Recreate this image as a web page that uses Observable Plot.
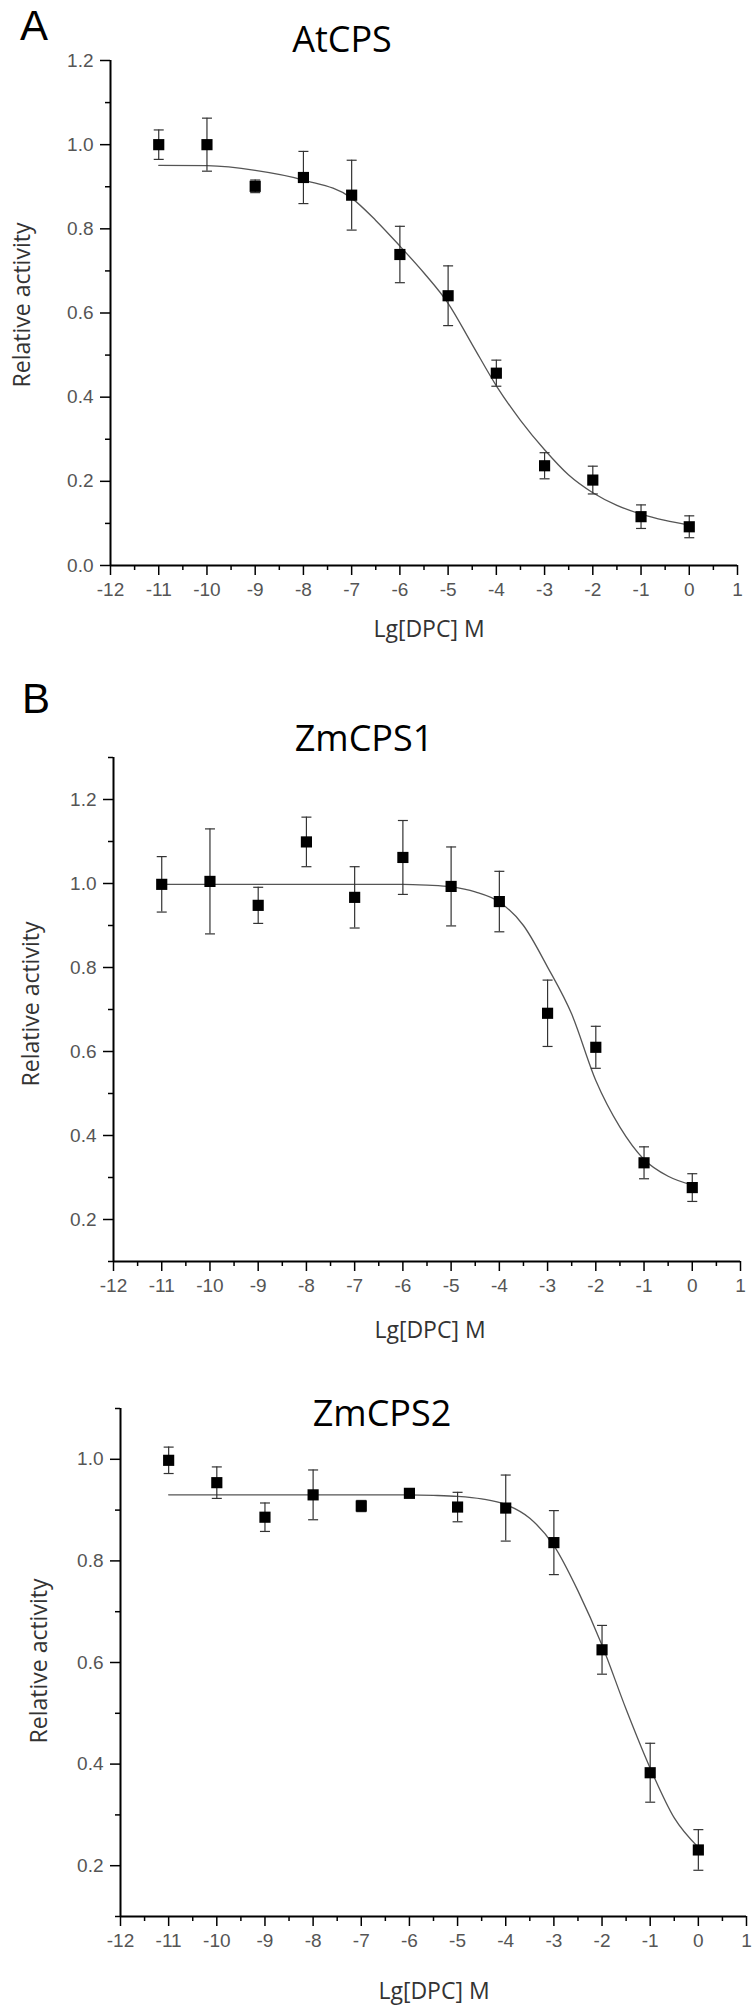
<!DOCTYPE html>
<html><head><meta charset="utf-8">
<script src="https://cdn.jsdelivr.net/npm/d3@7"></script>
<script src="https://cdn.jsdelivr.net/npm/@observablehq/plot@0.6"></script>
<style>
body{margin:0;background:#fff;}
#page{position:relative;width:756px;height:2010px;overflow:hidden;background:#fff;}
.panel{position:absolute;left:0;}
.panel svg{display:block;}
g[aria-label="x-axis tick label"], g[aria-label="y-axis tick label"]{fill:#555;}
#overlay{position:absolute;left:0;top:0;pointer-events:none;}
</style></head><body><div id="page"></div>
<script>
// ---- data ----
const xValues = [-11,-10,-9,-8,-7,-6,-5,-4,-3,-2,-1,0];
const xTicks = [-12,-11,-10,-9,-8,-7,-6,-5,-4,-3,-2,-1,0,1];
const xMinorTicks = [-11.5,-10.5,-9.5,-8.5,-7.5,-6.5,-5.5,-4.5,-3.5,-2.5,-1.5,-0.5,0.5];

const atcpsMean = [1.00,1.00,0.901,0.922,0.880,0.739,0.641,0.457,0.237,0.203,0.116,0.092];
const atcpsErr  = [0.035,0.063,0.015,0.062,0.083,0.067,0.071,0.031,0.031,0.033,0.028,0.026];
const zm1Mean = [0.998,1.005,0.948,1.099,0.967,1.062,0.993,0.957,0.691,0.610,0.335,0.276];
const zm1Err  = [0.066,0.125,0.043,0.059,0.073,0.088,0.094,0.072,0.079,0.050,0.038,0.033];
const zm2Mean = [0.998,0.954,0.886,0.930,0.908,0.933,0.906,0.904,0.836,0.625,0.383,0.231];
const zm2Err  = [0.026,0.031,0.028,0.049,0.011,0.004,0.029,0.065,0.063,0.048,0.058,0.040];

// fitted curves
const fitX = [-11,-10,-9,-8,-7,-6.5,-6,-5.5,-5,-4.5,-4,-3.5,-3,-2.5,-2,-1.5,-1,-0.5,0];
const atcpsFit = [0.951,0.950,0.939,0.916,0.873,0.820,0.759,0.695,0.623,0.525,0.427,0.345,0.275,0.215,0.173,0.143,0.122,0.107,0.096];
const zm1Fit   = [0.998,0.998,0.998,0.998,0.998,0.998,0.998,0.996,0.992,0.980,0.956,0.900,0.801,0.689,0.531,0.420,0.343,0.303,0.282];
const zm2Fit   = [0.930,0.930,0.930,0.930,0.930,0.930,0.930,0.929,0.927,0.922,0.911,0.884,0.830,0.741,0.634,0.508,0.392,0.294,0.236];

const yTicksA = [0,0.2,0.4,0.6,0.8,1.0,1.2];
const yMinorA = [0.1,0.3,0.5,0.7,0.9,1.1];
const yTicksB = [0.2,0.4,0.6,0.8,1.0,1.2];
const yMinorB = [0.1,0.3,0.5,0.7,0.9,1.1,1.3];
const yTicksC = [0.2,0.4,0.6,0.8,1.0];
const yMinorC = [0.1,0.3,0.5,0.7,0.9,1.1];

const titles = ["AtCPS","ZmCPS1","ZmCPS2"];
const panelLetters = ["A","B"];
const yLabel = "Relative activity";
const xLabel = "Lg[DPC] M";

// ---- drawing ----
const capSymbol = {draw(ctx){ ctx.moveTo(-5,0); ctx.lineTo(5,0); }};

function makePanel(cfg){
  const data = xValues.map((x,i)=>({x, y: cfg.mean[i], e: cfg.err[i]}));
  const fit = fitX.map((x,i)=>({x, y: cfg.fit[i]}));
  return Plot.plot({
    width: 756, height: cfg.height,
    marginTop: cfg.mt, marginBottom: cfg.mb, marginLeft: cfg.ml, marginRight: cfg.mr,
    style: {fontFamily: '"Liberation Sans", Arial, sans-serif', fontSize: "19px", background: "transparent", overflow: "visible"},
    x: {domain: [-12, 1]},
    y: {domain: cfg.yDomain},
    marks: [
      Plot.axisY(cfg.yMinor, {tickSize: 5, tickFormat: () => "", label: null, strokeWidth: 1.5}),
      Plot.axisY(cfg.yMajor, {tickSize: 10, tickPadding: 7, tickFormat: d => d.toFixed(1), label: null, strokeWidth: 1.5}),
      Plot.axisX(xMinorTicks, {tickSize: 5, tickFormat: () => "", label: null, strokeWidth: 1.5}),
      Plot.axisX(xTicks, {tickSize: 10, tickPadding: 7, tickFormat: d => String(d), label: null, strokeWidth: 1.5}),
      Plot.ruleX([-12], {stroke: "#000", strokeWidth: 2}),
      Plot.ruleY([cfg.yDomain[0]], {stroke: "#000", strokeWidth: 2}),
      Plot.line(fit, {x: "x", y: "y", curve: "monotone-x", stroke: "#555", strokeWidth: 1.3}),
      Plot.ruleX(data, {x: "x", y1: d => d.y - d.e, y2: d => d.y + d.e, stroke: "#333", strokeWidth: 1.2}),
      Plot.dot(data, {x: "x", y: d => d.y + d.e, symbol: capSymbol, fill: "none", stroke: "#333", strokeWidth: 1.2}),
      Plot.dot(data, {x: "x", y: d => d.y - d.e, symbol: capSymbol, fill: "none", stroke: "#333", strokeWidth: 1.2}),
      Plot.dot(data, {x: "x", y: "y", symbol: "square", r: 6.3, fill: "#000", stroke: "none"})
    ]
  });
}

const page = document.getElementById("page");
const panels = [
  {top: 0,    height: 660, mt: 60, mb: 95, ml: 110, mr: 19, yDomain: [0, 1.2],   yMajor: yTicksA, yMinor: yMinorA, mean: atcpsMean, err: atcpsErr, fit: atcpsFit},
  {top: 690,  height: 650, mt: 67, mb: 79, ml: 113, mr: 16, yDomain: [0.1, 1.3], yMajor: yTicksB, yMinor: yMinorB, mean: zm1Mean, err: zm1Err, fit: zm1Fit},
  {top: 1340, height: 670, mt: 68, mb: 94, ml: 120, mr: 10, yDomain: [0.1, 1.1], yMajor: yTicksC, yMinor: yMinorC, mean: zm2Mean, err: zm2Err, fit: zm2Fit}
];
for (const cfg of panels){
  const div = document.createElement("div");
  div.className = "panel";
  div.style.top = cfg.top + "px";
  div.appendChild(makePanel(cfg));
  page.appendChild(div);
}

// ---- text overlay ----
const svg = d3.select(page).append("svg").attr("id","overlay").attr("width",756).attr("height",2010);
const sans = '"Open Sans", "Noto Sans", sans-serif';
const letterPos = [[20,40],[22,713]];
panelLetters.forEach((t,i)=> svg.append("text").attr("x",letterPos[i][0]).attr("y",letterPos[i][1])
  .attr("font-family",'"Liberation Sans", Arial, sans-serif').attr("font-size",42).attr("fill","#000").text(t));
const titlePos = [[342,52],[364,751],[382,1426]];
titles.forEach((t,i)=> svg.append("text").attr("x",titlePos[i][0]).attr("y",titlePos[i][1])
  .attr("text-anchor","middle").attr("font-family",sans).attr("font-size",36).attr("fill","#000").text(t));
const yLabPos = [[21,305],[30,1004],[38,1661]];
yLabPos.forEach(([x,y])=> svg.append("text").attr("transform",`translate(${x},${y}) rotate(-90)`)
  .attr("text-anchor","middle").attr("dominant-baseline","central").attr("font-family",sans)
  .attr("font-size",23).attr("fill","#333").text(yLabel));
const xLabPos = [[429,628],[430,1329],[434,1990]];
xLabPos.forEach(([x,y])=> svg.append("text").attr("x",x).attr("y",y)
  .attr("text-anchor","middle").attr("dominant-baseline","central").attr("font-family",sans)
  .attr("font-size",23).attr("fill","#333").text(xLabel));
</script>
</body></html>
